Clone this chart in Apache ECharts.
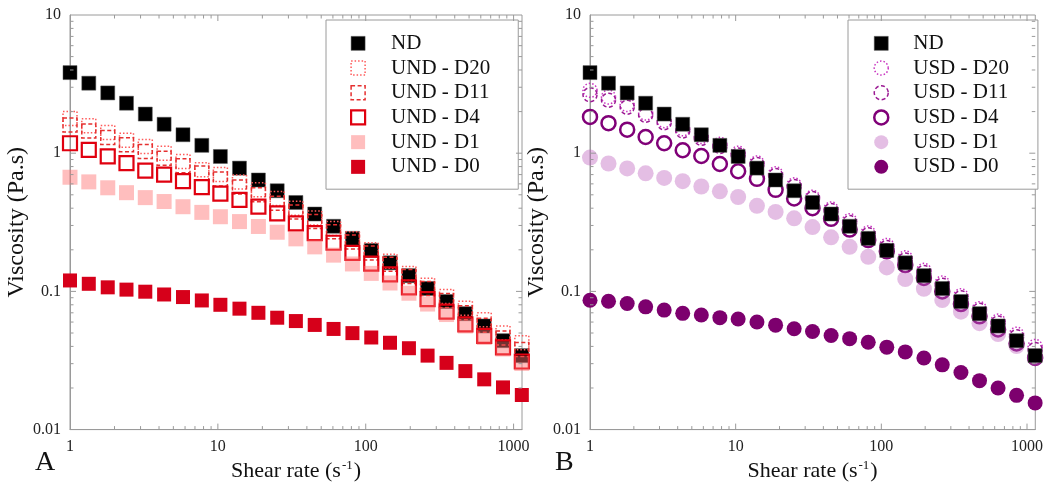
<!doctype html>
<html>
<head>
<meta charset="utf-8">
<title>Viscosity vs shear rate</title>
<script src="https://cdn.jsdelivr.net/npm/echarts@6/dist/echarts.min.js"></script>
</head>
<body style="margin:0;background:#fff">
<div id="container" style="width:1046px;height:487px;"></div>
<script>
// shear rate (1/s), shared by every series
var shearRate = [1, 1.34, 1.80, 2.41, 3.23, 4.33, 5.81, 7.79, 10.4, 14.0, 18.8, 25.2, 33.7, 45.2, 60.6, 81.3, 109, 146, 196, 262, 352, 472, 633, 848, 1137];

// viscosity (Pa.s)
var nd     = [3.83, 3.21, 2.73, 2.30, 1.92, 1.62, 1.36, 1.14, 0.947, 0.78, 0.64, 0.535, 0.44, 0.363, 0.296, 0.242, 0.198, 0.161, 0.130, 0.105, 0.0845, 0.069, 0.0562, 0.044, 0.0343];
var undD20 = [1.78, 1.58, 1.41, 1.24, 1.12, 1.0, 0.87, 0.76, 0.70, 0.62, 0.545, 0.47, 0.40, 0.34, 0.285, 0.24, 0.2, 0.165, 0.135, 0.111, 0.0917, 0.0756, 0.0624, 0.050, 0.0425];
var undD11 = [1.6, 1.45, 1.3, 1.15, 1.03, 0.92, 0.81, 0.72, 0.65, 0.57, 0.5, 0.435, 0.375, 0.32, 0.27, 0.228, 0.19, 0.157, 0.128, 0.105, 0.086, 0.07, 0.057, 0.046, 0.038];
var undD4  = [1.18, 1.056, 0.947, 0.848, 0.748, 0.70, 0.628, 0.569, 0.51, 0.46, 0.41, 0.367, 0.311, 0.264, 0.225, 0.19, 0.159, 0.133, 0.107, 0.088, 0.0714, 0.0578, 0.0477, 0.0394, 0.0311];
var undD1  = [0.67, 0.62, 0.562, 0.518, 0.477, 0.447, 0.41, 0.373, 0.347, 0.32, 0.295, 0.268, 0.24, 0.21, 0.183, 0.158, 0.135, 0.115, 0.097, 0.081, 0.068, 0.0562, 0.0464, 0.0383, 0.0301];
var undD0  = [0.12, 0.1135, 0.107, 0.103, 0.0995, 0.095, 0.091, 0.086, 0.080, 0.075, 0.070, 0.0645, 0.061, 0.0572, 0.0535, 0.0499, 0.0464, 0.0425, 0.0388, 0.0343, 0.0304, 0.0265, 0.0231, 0.0202, 0.0178];

var usdD20 = [2.85, 2.55, 2.25, 1.95, 1.72, 1.5, 1.32, 1.16, 1.0, 0.85, 0.71, 0.59, 0.48, 0.395, 0.325, 0.265, 0.215, 0.175, 0.142, 0.115, 0.093, 0.075, 0.061, 0.049, 0.04];
var usdD11 = [2.65, 2.42, 2.15, 1.88, 1.66, 1.45, 1.28, 1.12, 0.97, 0.83, 0.69, 0.575, 0.47, 0.385, 0.315, 0.257, 0.208, 0.169, 0.137, 0.111, 0.09, 0.073, 0.059, 0.047, 0.038];
var usdD4  = [1.83, 1.65, 1.48, 1.31, 1.18, 1.05, 0.955, 0.835, 0.74, 0.652, 0.543, 0.47, 0.40, 0.335, 0.28, 0.235, 0.195, 0.155, 0.125, 0.10, 0.081, 0.066, 0.053, 0.042, 0.033];
var usdD1  = [0.929, 0.842, 0.776, 0.715, 0.662, 0.627, 0.574, 0.53, 0.482, 0.416, 0.376, 0.338, 0.292, 0.246, 0.21, 0.178, 0.149, 0.123, 0.1045, 0.0865, 0.0713, 0.0589, 0.0492, 0.0402, 0.033];
var usdD0  = [0.0863, 0.0849, 0.0817, 0.0773, 0.0732, 0.0694, 0.0675, 0.0646, 0.0632, 0.060, 0.057, 0.0537, 0.0513, 0.048, 0.0455, 0.0429, 0.0395, 0.0365, 0.033, 0.0294, 0.0259, 0.0226, 0.020, 0.0177, 0.0156];

// axis ranges and tick positions
var xMin = 1, xMax = 1140, yMin = 0.01, yMax = 10;
var xMajor = [10, 100, 1000];
var xMinor = [2, 3, 4, 5, 6, 7, 8, 9, 20, 30, 40, 50, 60, 70, 80, 90, 200, 300, 400, 500, 600, 700, 800, 900];
var yMajor = [0.1, 1];
var yMinor = [0.02, 0.03, 0.04, 0.05, 0.06, 0.07, 0.08, 0.09, 0.2, 0.3, 0.4, 0.5, 0.6, 0.7, 0.8, 0.9, 2, 3, 4, 5, 6, 7, 8, 9];

var FONT = '"Liberation Serif", "DejaVu Serif", serif';

function pairs(vals) {
    return vals.map(function (v, i) { return [shearRate[i], v]; });
}

// tick marks on all four sides, drawn inward
var tickData = [];
xMajor.forEach(function (v) { tickData.push([v, yMin, 0, 1]); });
xMinor.forEach(function (v) { tickData.push([v, yMin, 0, 0]); });
yMajor.forEach(function (v) { tickData.push([xMin, v, 1, 1]); });
yMinor.forEach(function (v) { tickData.push([xMin, v, 1, 0]); });

function renderTick(params, api) {
    var isY = api.value(2) === 1;
    var len = api.value(3) === 1 ? 6 : 3.5;
    var style = { stroke: '#9a9a9a', lineWidth: 1 };
    var a, b;
    if (!isY) {
        a = api.coord([api.value(0), yMin]);
        b = api.coord([api.value(0), yMax]);
        return { type: 'group', children: [
            { type: 'line', shape: { x1: a[0], y1: a[1], x2: a[0], y2: a[1] - len }, style: style },
            { type: 'line', shape: { x1: b[0], y1: b[1], x2: b[0], y2: b[1] + len }, style: style }
        ] };
    }
    a = api.coord([xMin, api.value(1)]);
    b = api.coord([xMax, api.value(1)]);
    return { type: 'group', children: [
        { type: 'line', shape: { x1: a[0], y1: a[1], x2: a[0] + len, y2: a[1] }, style: style },
        { type: 'line', shape: { x1: b[0], y1: b[1], x2: b[0] - len, y2: b[1] }, style: style }
    ] };
}

function fmt(v) { return String(+(+v).toPrecision(3)); }

function xAxisFor(i) {
    return {
        gridIndex: i, type: 'log', logBase: 10, min: xMin, max: xMax,
        name: '{t|Shear rate (s}{s|-1}{t|)}', nameLocation: 'middle', nameGap: 27,
        nameTextStyle: { rich: {
            t: { fontFamily: FONT, fontSize: 22, color: '#111' },
            s: { fontFamily: FONT, fontSize: 13, color: '#111', padding: [0, 1, 10, 1] }
        } },
        axisLine: { lineStyle: { color: '#9a9a9a' } },
        axisTick: { show: false },
        splitLine: { show: false },
        axisLabel: { fontFamily: FONT, fontSize: 16, color: '#222', margin: 9, showMaxLabel: false, formatter: fmt }
    };
}
function yAxisFor(i) {
    return {
        gridIndex: i, type: 'log', logBase: 10, min: yMin, max: yMax,
        name: 'Viscosity (Pa.s)', nameLocation: 'middle', nameGap: 36,
        nameTextStyle: { fontFamily: FONT, fontSize: 24, color: '#111' },
        axisLine: { lineStyle: { color: '#9a9a9a' } },
        axisTick: { show: false },
        splitLine: { show: false },
        axisLabel: { fontFamily: FONT, fontSize: 16, color: '#222', margin: 9, formatter: fmt }
    };
}

function scatter(name, vals, gi, symbol, size, style, z) {
    style.opacity = 1;
    return {
        name: name, type: 'scatter', xAxisIndex: gi, yAxisIndex: gi,
        data: pairs(vals), symbol: symbol, symbolSize: size,
        itemStyle: style, z: z || 2, silent: true, emphasis: { disabled: true }
    };
}

var hollow = 'rgba(0,0,0,0)';
var dotted = [1.5, 2];
var dashed = [4, 2.5];

var styles = {
    'ND': { color: '#000', borderColor: '#555', borderWidth: 0.5 },
    'UND - D20': { color: hollow, borderColor: '#ff5a5a', borderWidth: 1.5, borderType: dotted },
    'UND - D11': { color: hollow, borderColor: '#e53030', borderWidth: 1.5, borderType: dashed },
    'UND - D4': { color: hollow, borderColor: '#e0000f', borderWidth: 2.2 },
    'UND - D1': { color: 'rgba(255,110,110,0.45)' },
    'UND - D0': { color: '#d6001a' },
    'USD - D20': { color: hollow, borderColor: '#c833c0', borderWidth: 1.5, borderType: dotted },
    'USD - D11': { color: hollow, borderColor: '#9c1a94', borderWidth: 1.5, borderType: dashed },
    'USD - D4': { color: hollow, borderColor: '#800078', borderWidth: 2.5 },
    'USD - D1': { color: 'rgba(190,100,190,0.42)' },
    'USD - D0': { color: '#7d006e' }
};

function legendItems(names) {
    return names.map(function (n) {
        var s = styles[n];
        return { name: n, itemStyle: { color: s.color, borderColor: s.borderColor || s.color, borderWidth: s.borderWidth || 0, borderType: s.borderType || 'solid', opacity: 1 } };
    });
}

var option = {
    animation: false,
    backgroundColor: '#fff',
    title: [
        { text: 'A', left: 30, top: 444, textStyle: { fontFamily: FONT, fontSize: 28, fontWeight: 'normal', color: '#111' } },
        { text: 'B', left: 550, top: 444, textStyle: { fontFamily: FONT, fontSize: 28, fontWeight: 'normal', color: '#111' } }
    ],
    grid: [
        { left: 70, top: 15, width: 452, height: 421, show: true, borderColor: '#9a9a9a', borderWidth: 1 },
        { left: 590, top: 15, width: 451, height: 421, show: true, borderColor: '#9a9a9a', borderWidth: 1 }
    ],
    xAxis: [xAxisFor(0), xAxisFor(1)],
    yAxis: [yAxisFor(0), yAxisFor(1)],
    legend: [
        {
            orient: 'vertical', left: 326, top: 20, itemWidth: 14, itemHeight: 14, itemGap: 0,
            padding: [11, 28, 10, 24], borderColor: '#9a9a9a', borderWidth: 1, backgroundColor: '#fff',
            selectedMode: false,
            textStyle: { fontFamily: FONT, fontSize: 21, color: '#111', lineHeight: 24.7, padding: [0, 0, 0, 21] },
            data: legendItems(['ND', 'UND - D20', 'UND - D11', 'UND - D4', 'UND - D1', 'UND - D0'])
        },
        {
            orient: 'vertical', left: 848, top: 20, itemWidth: 14, itemHeight: 14, itemGap: 0,
            padding: [11, 29, 10, 25], borderColor: '#9a9a9a', borderWidth: 1, backgroundColor: '#fff',
            selectedMode: false,
            textStyle: { fontFamily: FONT, fontSize: 21, color: '#111', lineHeight: 24.7, padding: [0, 0, 0, 20] },
            data: legendItems(['ND', 'USD - D20', 'USD - D11', 'USD - D4', 'USD - D1', 'USD - D0'])
        }
    ],
    series: [
        scatter('ND', nd, 0, 'rect', 14, styles['ND']),
        scatter('UND - D20', undD20, 0, 'rect', 14, styles['UND - D20']),
        scatter('UND - D11', undD11, 0, 'rect', 14, styles['UND - D11']),
        scatter('UND - D4', undD4, 0, 'rect', 14, styles['UND - D4']),
        scatter('UND - D1', undD1, 0, 'rect', 15, styles['UND - D1']),
        scatter('UND - D0', undD0, 0, 'rect', 14, styles['UND - D0']),

        scatter('USD - D20', usdD20, 1, 'circle', 14, styles['USD - D20']),
        scatter('USD - D11', usdD11, 1, 'circle', 14, styles['USD - D11']),
        scatter('USD - D4', usdD4, 1, 'circle', 14, styles['USD - D4']),
        scatter('USD - D1', usdD1, 1, 'circle', 16, styles['USD - D1']),
        scatter('USD - D0', usdD0, 1, 'circle', 15, styles['USD - D0']),
        scatter('ND', nd, 1, 'rect', 14, styles['ND'], 3),

        { type: 'custom', xAxisIndex: 0, yAxisIndex: 0, data: tickData, renderItem: renderTick, silent: true, z: 5 },
        { type: 'custom', xAxisIndex: 1, yAxisIndex: 1, data: tickData, renderItem: renderTick, silent: true, z: 5 }
    ]
};

var myChart = echarts.init(document.getElementById('container'));
myChart.setOption(option);
</script>
</body>
</html>
